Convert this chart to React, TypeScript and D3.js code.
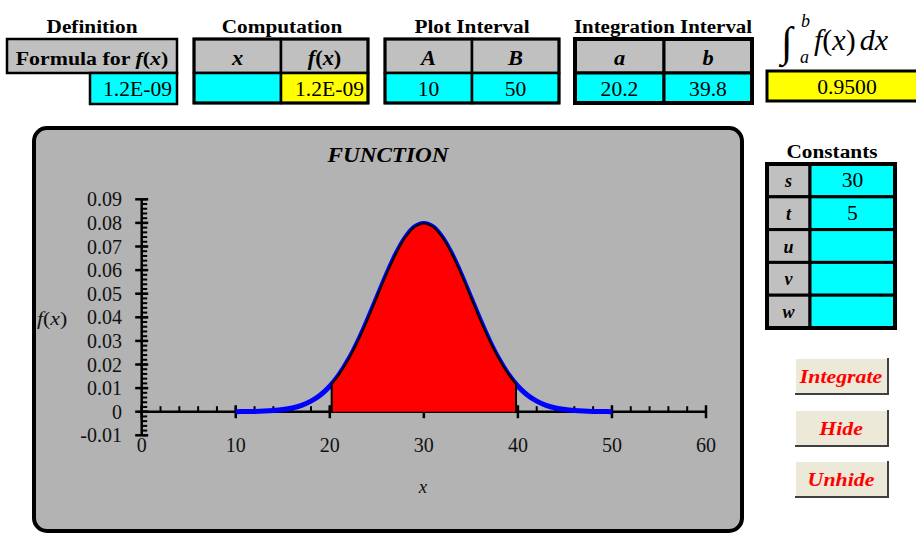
import React from "react";
import * as d3 from "d3";

// ---- data ----
const plotX = [10, 11, 12, 13, 14, 15, 16, 17, 18, 19, 20, 21, 22, 23, 24, 25, 26, 27, 28, 29, 30, 31, 32, 33, 34, 35, 36, 37, 38, 39, 40, 41, 42, 43, 44, 45, 46, 47, 48, 49, 50];
const plotY = [0.00003, 0.00006, 0.00012, 0.00025, 0.00048, 0.00089, 0.00158, 0.00271, 0.00448, 0.00709, 0.0108, 0.01579, 0.02218, 0.02995, 0.03884, 0.04839, 0.05794, 0.06664, 0.07365, 0.07821, 0.07979, 0.07821, 0.07365, 0.06664, 0.05794, 0.04839, 0.03884, 0.02995, 0.02218, 0.01579, 0.0108, 0.00709, 0.00448, 0.00271, 0.00158, 0.00089, 0.00048, 0.00025, 0.00012, 0.00006, 0.00003];
const integA = 20.2;
const integB = 39.8;
const integAY = 0.01169;
const integBY = 0.01169;
const xTicks = [0, 10, 20, 30, 40, 50, 60];
const yTicks = [-0.01, 0, 0.01, 0.02, 0.03, 0.04, 0.05, 0.06, 0.07, 0.08, 0.09];
const yTickLabels = ["-0.01", "0", "0.01", "0.02", "0.03", "0.04", "0.05", "0.06", "0.07", "0.08", "0.09"];
const constNames = ["s", "t", "u", "v", "w"];
const constValues = ["30", "5", "", "", ""];
const buttonLabels = ["Integrate", "Hide", "Unhide"];
const formulaValue = "1.2E-09";
const compX = "";
const compFx = "1.2E-09";
const plotA = "10";
const plotB = "50";
const intA = "20.2";
const intB = "39.8";
const integralValue = "0.9500";

const SERIF = "'Liberation Serif', 'Times New Roman', serif";
const GRAY = "#c0c0c0";
const CYAN = "#00ffff";
const YELLOW = "#ffff00";

function Cell({ x, y, w, h, fill, sw = 2.5 }: any) {
  return <rect x={x} y={y} width={w} height={h} fill={fill} stroke="#000" strokeWidth={sw} />;
}

// horizontally stretched text (the reference's Excel rendering is wide)
function S({ x, y, sx = 1.12, children, ...rest }: any) {
  return (
    <text transform={`translate(${x},${y}) scale(${sx},1)`} x={0} y={0} {...rest}>
      {children}
    </text>
  );
}

export default function App() {
  const xs = d3.scaleLinear().domain([0, 60]).range([141.7, 706]);
  const ys = d3.scaleLinear().domain([-0.01, 0.09]).range([435.3, 199.3]);

  const pts: [number, number][] = plotX.map((x, i) => [x, plotY[i]]);
  const line = d3
    .line<[number, number]>()
    .x((d) => xs(d[0]))
    .y((d) => ys(d[1]))
    .curve(d3.curveCatmullRom);

  const fillPts: [number, number][] = [
    [integA, integAY],
    ...pts.filter((p) => p[0] > integA && p[0] < integB),
    [integB, integBY],
  ];
  const area = d3
    .area<[number, number]>()
    .x((d) => xs(d[0]))
    .y0(ys(0))
    .y1((d) => ys(d[1]))
    .curve(d3.curveCatmullRom);
  const outline =
    `M${xs(integA)},${ys(0)}L${xs(integA)},${ys(integAY)}` +
    (line(fillPts) || "").replace(/^M[^A-Za-z]*/, "L" + xs(integA) + "," + ys(integAY)) +
    `L${xs(integB)},${ys(0)}`;

  const x0 = xs(0);
  const yZero = ys(0);
  const yMinor = d3.range(-0.01, 0.0901, 0.002);
  const xMinor = d3.range(0, 60.01, 2);

  const topY = 39;
  const midY = 73;
  const botY = 103;

  return (
    <svg width={916} height={534} style={{ position: "absolute", left: 0, top: 0, display: "block" }} fontFamily={SERIF}>
      <rect x={0} y={0} width={916} height={534} fill="#fff" />

      {/* ---- Definition ---- */}
      <S x={92} y={33} sx={1.12} textAnchor="middle" fontWeight="bold" fontSize={19}>Definition</S>
      <Cell x={7} y={topY} w={170} h={midY - topY} fill={GRAY} />
      <Cell x={90} y={midY} w={87} h={botY + 1 - midY} fill={CYAN} />
      <S x={92} y={65} sx={1.15} textAnchor="middle" fontWeight="bold" fontSize={19}>
        Formula for <tspan fontStyle="italic">f</tspan>(<tspan fontStyle="italic">x</tspan>)
      </S>
      <S x={172} y={96} sx={1.08} textAnchor="end" fontSize={20}>{formulaValue}</S>

      {/* ---- Computation ---- */}
      <S x={282} y={33} textAnchor="middle" fontWeight="bold" fontSize={19}>Computation</S>
      <Cell x={194} y={topY} w={87} h={midY - topY} fill={GRAY} />
      <Cell x={281} y={topY} w={87} h={midY - topY} fill={GRAY} />
      <Cell x={194} y={midY} w={87} h={botY - midY} fill={CYAN} />
      <Cell x={281} y={midY} w={87} h={botY - midY} fill={YELLOW} />
      <rect x={194} y={topY} width={174} height={botY - topY} fill="none" stroke="#000" strokeWidth={3} />
      <S x={237.5} y={65} textAnchor="middle" fontWeight="bold" fontStyle="italic" fontSize={20}>x</S>
      <S x={324.5} y={65} textAnchor="middle" fontWeight="bold" fontSize={20}>
        <tspan fontStyle="italic">f</tspan>(<tspan fontStyle="italic">x</tspan>)
      </S>
      <S x={237.5} y={96} sx={1.08} textAnchor="middle" fontSize={20}>{compX}</S>
      <S x={364} y={96} sx={1.08} textAnchor="end" fontSize={20}>{compFx}</S>

      {/* ---- Plot Interval ---- */}
      <S x={472} y={33} textAnchor="middle" fontWeight="bold" fontSize={19}>Plot Interval</S>
      <Cell x={385} y={topY} w={87} h={midY - topY} fill={GRAY} />
      <Cell x={472} y={topY} w={87} h={midY - topY} fill={GRAY} />
      <Cell x={385} y={midY} w={87} h={botY - midY} fill={CYAN} />
      <Cell x={472} y={midY} w={87} h={botY - midY} fill={CYAN} />
      <rect x={385} y={topY} width={174} height={botY - topY} fill="none" stroke="#000" strokeWidth={3} />
      <S x={428.5} y={65} textAnchor="middle" fontWeight="bold" fontStyle="italic" fontSize={20}>A</S>
      <S x={515.5} y={65} textAnchor="middle" fontWeight="bold" fontStyle="italic" fontSize={20}>B</S>
      <S x={428.5} y={96} sx={1.08} textAnchor="middle" fontSize={20}>{plotA}</S>
      <S x={515.5} y={96} sx={1.08} textAnchor="middle" fontSize={20}>{plotB}</S>

      {/* ---- Integration Interval ---- */}
      <S x={663} y={33} sx={1.1} textAnchor="middle" fontWeight="bold" fontSize={19}>Integration Interval</S>
      <Cell x={575} y={topY} w={89} h={midY - topY} fill={GRAY} sw={3} />
      <Cell x={664} y={topY} w={88} h={midY - topY} fill={GRAY} sw={3} />
      <Cell x={575} y={midY} w={89} h={botY - midY} fill={CYAN} sw={3} />
      <Cell x={664} y={midY} w={88} h={botY - midY} fill={CYAN} sw={3} />
      <rect x={575} y={topY} width={177} height={botY - topY} fill="none" stroke="#000" strokeWidth={4} />
      <S x={619.5} y={65} textAnchor="middle" fontWeight="bold" fontStyle="italic" fontSize={20}>a</S>
      <S x={708} y={65} textAnchor="middle" fontWeight="bold" fontStyle="italic" fontSize={20}>b</S>
      <S x={619.5} y={96} sx={1.08} textAnchor="middle" fontSize={20}>{intA}</S>
      <S x={708} y={96} sx={1.08} textAnchor="middle" fontSize={20}>{intB}</S>

      {/* ---- Integral ---- */}
      <text x={781} y={56} fontSize={42} fontWeight="normal">∫</text>
      <text x={801} y={27} fontSize={18} fontStyle="italic">b</text>
      <text x={800} y={63} fontSize={18} fontStyle="italic">a</text>
      <text x={814} y={50} fontSize={30}>
        <tspan fontStyle="italic">f</tspan>(<tspan fontStyle="italic">x</tspan>)<tspan fontStyle="italic" dx={4}>dx</tspan>
      </text>
      <rect x={767} y={71} width={160} height={30} fill={YELLOW} stroke="#000" strokeWidth={3} />
      <S x={847} y={94} sx={1.08} textAnchor="middle" fontSize={20}>{integralValue}</S>

      {/* ---- Chart panel ---- */}
      <rect x={34} y={128} width={708} height={403} rx={13} ry={13} fill="#b3b3b3" stroke="#000" strokeWidth={4} />
      <S x={388} y={162} sx={1.16} textAnchor="middle" fontWeight="bold" fontStyle="italic" fontSize={20}>FUNCTION</S>

      {/* y axis */}
      <line x1={x0} x2={x0} y1={ys(0.09)} y2={ys(-0.01)} stroke="#000" strokeWidth={2.5} />
      {yMinor.map((v, i) => (
        <line key={"ym" + i} x1={x0} x2={x0 + 5.5} y1={ys(v)} y2={ys(v)} stroke="#000" strokeWidth={2} />
      ))}
      {yTicks.map((v, i) => (
        <g key={"yt" + i}>
          <line x1={x0 - 6.5} x2={x0 + 6.5} y1={ys(v)} y2={ys(v)} stroke="#000" strokeWidth={2.5} />
          <text x={122} y={ys(v)} dy="0.35em" textAnchor="end" fontSize={20} fill="#111">{yTickLabels[i]}</text>
        </g>
      ))}
      <S x={37} y={325} sx={1.15} fontSize={19} fill="#111">
        <tspan fontStyle="italic">f</tspan>(<tspan fontStyle="italic">x</tspan>)
      </S>

      {/* x axis */}
      <line x1={x0} x2={xs(60)} y1={yZero} y2={yZero} stroke="#000" strokeWidth={2.5} />
      {xMinor.map((v, i) => (
        <line key={"xm" + i} x1={xs(v)} x2={xs(v)} y1={yZero - 5.5} y2={yZero} stroke="#000" strokeWidth={2} />
      ))}
      {xTicks.map((v, i) => (
        <g key={"xt" + i}>
          <line x1={xs(v)} x2={xs(v)} y1={yZero - 6.5} y2={yZero + 6.5} stroke="#000" strokeWidth={2.5} />
          <text x={xs(v)} y={452} textAnchor="middle" fontSize={20} fill="#111">{v}</text>
        </g>
      ))}
      <text x={423} y={493} textAnchor="middle" fontStyle="italic" fontSize={19} fill="#111">x</text>

      {/* series */}
      <path d={line(pts) || ""} fill="none" stroke="#0000ff" strokeWidth={5} strokeLinejoin="round" />
      <path d={area(fillPts) || ""} fill="#ff0000" stroke="none" />
      <path d={outline} fill="none" stroke="#000" strokeWidth={2} strokeLinejoin="round" />

      {/* ---- Constants ---- */}
      <S x={832} y={158} sx={1.12} textAnchor="middle" fontWeight="bold" fontSize={19}>Constants</S>
      {constNames.map((n, i) => {
        const y0 = 164 + i * 32.8;
        return (
          <g key={"c" + i}>
            <Cell x={767} y={y0} w={43} h={32.8} fill={GRAY} sw={3} />
            <Cell x={810} y={y0} w={85} h={32.8} fill={CYAN} sw={3} />
            <text x={788.5} y={y0 + 23} textAnchor="middle" fontWeight="bold" fontStyle="italic" fontSize={18}>{n}</text>
            <S x={852.5} y={y0 + 23} sx={1.08} textAnchor="middle" fontSize={20}>{constValues[i]}</S>
          </g>
        );
      })}
      <rect x={767} y={164} width={128} height={164} fill="none" stroke="#000" strokeWidth={4} />

      {/* ---- Buttons ---- */}
      {buttonLabels.map((b, i) => {
        const by = [358, 410, 461][i];
        return (
          <g key={"b" + i}>
            <rect x={795} y={by} width={93} height={36} fill="#ece9d8" />
            <line x1={795} x2={888} y1={by + 0.5} y2={by + 0.5} stroke="#fff" strokeWidth={1} />
            <line x1={795.5} x2={795.5} y1={by} y2={by + 36} stroke="#fff" strokeWidth={1} />
            <line x1={795} x2={889} y1={by + 36} y2={by + 36} stroke="#404040" strokeWidth={2} />
            <line x1={888} x2={888} y1={by} y2={by + 37} stroke="#404040" strokeWidth={2} />
            <S x={841} y={by + 25} sx={1.15} textAnchor="middle" fontWeight="bold" fontStyle="italic" fontSize={19} fill="#ff0000">{b}</S>
          </g>
        );
      })}
    </svg>
  );
}
